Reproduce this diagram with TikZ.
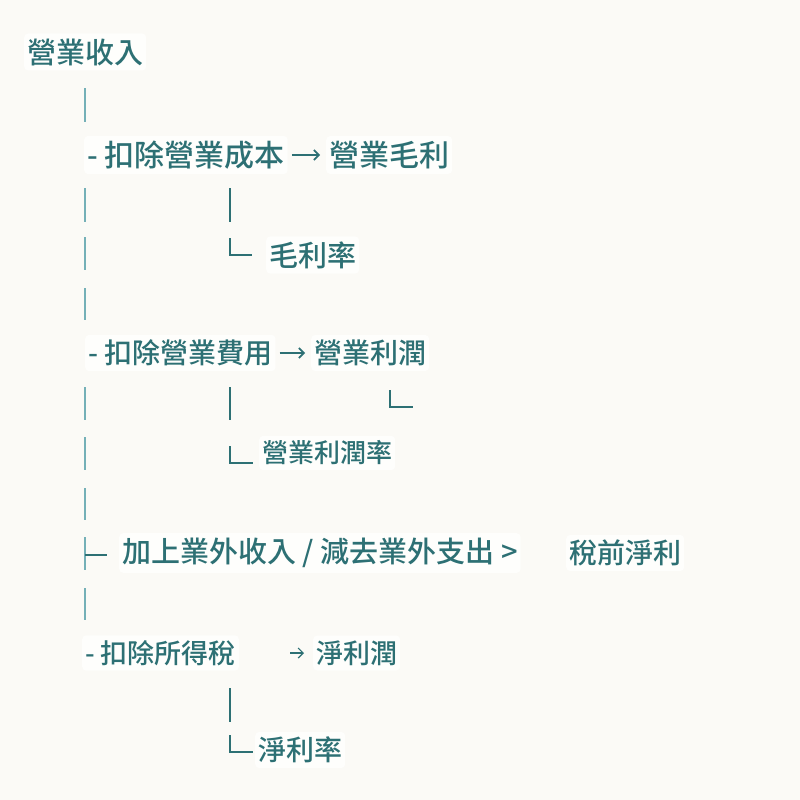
\documentclass[tikz,border=0pt]{standalone}
\usepackage{fontspec}
\setmainfont{Noto Sans CJK TC Medium}
\usetikzlibrary{arrows.meta}
\definecolor{paper}{HTML}{FBFAF6}
\definecolor{ink}{HTML}{2D7074}
\definecolor{trunk}{HTML}{74B0B7}
\definecolor{glow}{HTML}{FEFEFC}

\begin{document}
\begin{tikzpicture}[x=1pt,y=-1pt,
  lbl/.style={anchor=west,text=ink,fill=glow,inner xsep=3pt,inner ysep=5pt,rounded corners=4pt,font=\fontsize{#1}{#1}\selectfont},
  lbl/.default=28,
  bar/.style={trunk,line width=2.4pt},
  elbow/.style={ink,line width=2pt},
  flow/.style={ink,line width=1.6pt,-{Straight Barb[length=5pt,width=10pt]}}]
\fill[paper] (0,0) rectangle (800,800);
\useasboundingbox (0,0) rectangle (800,800);

\node[lbl=29] (rev) at (24,52) {營業收入};
\node[lbl=30] (cogs) at (84,155) {- 扣除營業成本};
\node[lbl=30] (gross) at (326,155) {營業毛利};
\node[lbl=29] (gmr) at (266,255) {毛利率};
\node[lbl=28] (opex) at (85,353) {- 扣除營業費用};
\node[lbl=28] (opinc) at (311,353) {營業利潤};
\node[lbl=26] (opm) at (259,453) {營業利潤率};
\node[lbl=29] (nonop) at (119,553) {加上業外收入 / 減去業外支出 >};
\node[lbl=28] (pretax) at (566,553) {稅前淨利};
\node[lbl=27] (tax) at (82,653) {- 扣除所得稅};
\node[lbl=27] (net) at (313,653) {淨利潤};
\node[lbl=28] (npm) at (255,750) {淨利率};

\draw[flow,shorten <=4pt,shorten >=6pt] (cogs) -- (gross);
\draw[flow,shorten <=4pt,shorten >=6pt] (opex) -- (opinc);
\draw[flow,line width=1.2pt,shorten <=51pt,shorten >=9pt] (tax) -- (net);

\foreach \a/\b in {88/122,188/222,237/270,288/320,387/420,437/470,488/520,537/570,588/620}
  \draw[bar] (85,\a) -- (85,\b);
\draw[elbow] (85,555) -- (107,555);
\foreach \a/\b in {188/222,387/420,688/722}
  \draw[elbow] (230,\a) -- (230,\b);
\draw[elbow] (230,238) |- (252,255);
\draw[elbow] (390,390) |- (413,407);
\draw[elbow] (230,446) |- (253,463);
\draw[elbow] (230,735) |- (253,752);
\end{tikzpicture}
\end{document}
